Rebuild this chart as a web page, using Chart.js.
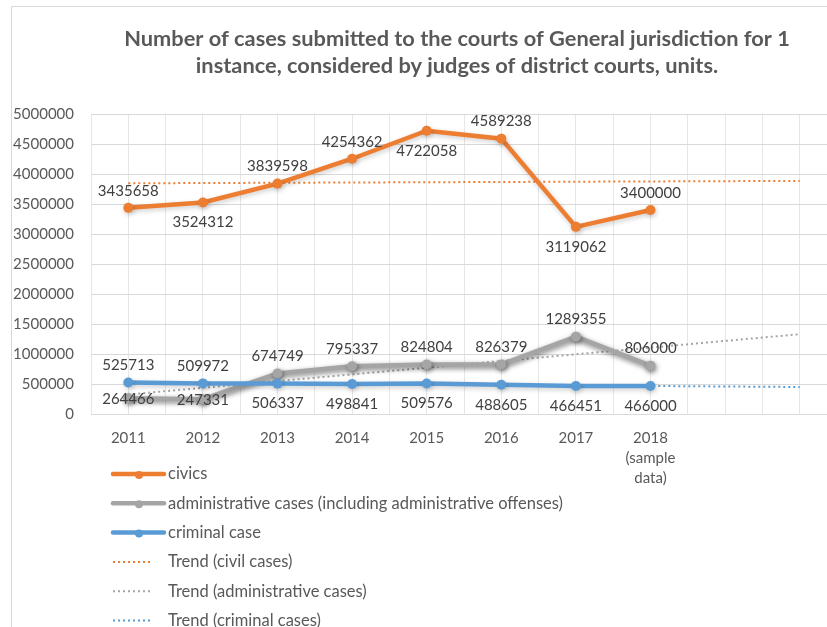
<!DOCTYPE html>
<html>
<head>
<meta charset="utf-8">
<script src="https://cdn.jsdelivr.net/npm/chart.js@4.4.1/dist/chart.umd.min.js"></script>
<style>
  html, body { margin: 0; padding: 0; background: #fff; overflow: hidden; width: 827px; height: 627px; }
  canvas { display: block; }
</style>
</head>
<body>
<canvas id="chart" width="860" height="627"></canvas>
<script>
// Cases submitted to courts of general jurisdiction, 2011-2018
const years = ['2011', '2012', '2013', '2014', '2015', '2016', '2017', ['2018', '(sample', 'data)']];
const civics = [3435658, 3524312, 3839598, 4254362, 4722058, 4589238, 3119062, 3400000];
const administrative = [264466, 247331, 674749, 795337, 824804, 826379, 1289355, 806000];
const criminal = [525713, 509972, 506337, 498841, 509576, 488605, 466451, 466000];

// trend lines: at 2011 and at the end of the forecast
const trendX = [0, 9];
const trendCivil = [3845000, 3885000];
const trendAdmin = [325000, 1330000];
const trendCriminal = [528000, 450000];

// where each value label sits next to its point
const civicsLabelPos = ['above', 'below', 'above', 'above', 'below', 'above', 'below', 'above'];
const adminLabelPos = ['center', 'center', 'above', 'above', 'above', 'above', 'above', 'above'];
const criminalLabelPos = ['above', 'above', 'below', 'below', 'below', 'below', 'below', 'below'];

const titleLines = [
  'Number of cases submitted to the courts of General jurisdiction for 1',
  'instance, considered by judges of district courts, units.',
];

const COLORS = {
  civics: '#ED7D31',
  admin: '#A5A5A5',
  criminal: '#5B9BD5',
  text: '#595959',
  label: '#404040',
  grid: '#D9D9D9',
  vgrid: '#E6E6E6',
  border: '#D9D9D9',
};
const FONT = 'Lato, "Open Sans", sans-serif';

const series = (label, values, color, labelPos, order, shadow) => ({
  label, labelPos, order, shadow,
  data: values.map((v, i) => ({ x: i, y: v })),
  borderColor: color, backgroundColor: color,
  borderWidth: 4.5, pointRadius: 5, pointBorderWidth: 0, pointBackgroundColor: color,
  tension: 0,
});

const trend = (label, values, color, order) => ({
  label, order, isTrend: true,
  data: trendX.map((x, i) => ({ x, y: values[i] })),
  borderColor: color, borderWidth: 2, borderDash: [2, 3], pointRadius: 0, fill: false,
});

const datasets = [
  series('civics', civics, COLORS.civics, civicsLabelPos, 3, 0.2),
  series('administrative cases (including administrative offenses)', administrative, COLORS.admin, adminLabelPos, 2, 0.5),
  series('criminal case', criminal, COLORS.criminal, criminalLabelPos, 1, 0.2),
  trend('Trend (civil cases)', trendCivil, COLORS.civics, 4),
  trend('Trend (administrative cases)', trendAdmin, COLORS.admin, 5),
  trend('Trend (criminal cases)', trendCriminal, COLORS.criminal, 6),
];

// soft shadow under the series lines, like the office chart
const shadowPlugin = {
  id: 'shadow',
  beforeDatasetDraw(chart, args) {
    const ds = chart.data.datasets[args.index];
    if (!ds.shadow) return;
    const ctx = chart.ctx;
    ctx.save();
    ctx.shadowColor = `rgba(0,0,0,${ds.shadow})`;
    ctx.shadowBlur = 5;
    ctx.shadowOffsetX = 1;
    ctx.shadowOffsetY = 2;
  },
  afterDatasetDraw(chart, args) {
    if (chart.data.datasets[args.index].shadow) chart.ctx.restore();
  },
};

const valueLabels = {
  id: 'valueLabels',
  afterDatasetsDraw(chart) {
    const ctx = chart.ctx;
    const offsets = { above: -17, below: 20, center: 1 };
    ctx.save();
    ctx.font = `15px ${FONT}`;
    ctx.fillStyle = COLORS.label;
    ctx.textAlign = 'center';
    ctx.textBaseline = 'middle';
    chart.data.datasets.forEach((ds, i) => {
      if (!ds.labelPos) return;
      chart.getDatasetMeta(i).data.forEach((pt, j) => {
        ctx.fillText(String(ds.data[j].y), pt.x, pt.y + offsets[ds.labelPos[j]]);
      });
    });
    ctx.restore();
  },
};

// title, border and the vertical legend under the axis
const decorations = {
  id: 'decorations',
  afterDraw(chart) {
    const ctx = chart.ctx;
    ctx.save();
    ctx.strokeStyle = COLORS.border;
    ctx.lineWidth = 1;
    ctx.strokeRect(11.5, 6.5, 1000, 1000);

    ctx.fillStyle = COLORS.text;
    ctx.font = `bold 21.8px ${FONT}`;
    ctx.textAlign = 'center';
    ctx.textBaseline = 'middle';
    titleLines.forEach((t, i) => ctx.fillText(t, 457, 39 + i * 27));

    ctx.font = `16.5px ${FONT}`;
    ctx.textAlign = 'left';
    chart.data.datasets.forEach((ds, i) => {
      const y = 474 + i * 29.3;
      ctx.strokeStyle = ds.borderColor;
      if (ds.isTrend) {
        ctx.lineWidth = 2;
        ctx.setLineDash([2, 3]);
        ctx.beginPath(); ctx.moveTo(113, y); ctx.lineTo(153, y); ctx.stroke();
        ctx.setLineDash([]);
      } else {
        ctx.lineWidth = 4.5;
        ctx.lineCap = 'round';
        ctx.beginPath(); ctx.moveTo(113, y); ctx.lineTo(164, y); ctx.stroke();
        ctx.lineCap = 'butt';
        ctx.fillStyle = ds.borderColor;
        ctx.beginPath(); ctx.arc(139, y + 1, 4, 0, Math.PI * 2); ctx.fill();
      }
      ctx.fillStyle = COLORS.text;
      ctx.fillText(ds.label, 168, y);
    });
    ctx.restore();
  },
};

new Chart(document.getElementById('chart'), {
  type: 'line',
  data: { datasets },
  plugins: [shadowPlugin, valueLabels, decorations],
  options: {
    responsive: false, animation: false,
    layout: { padding: { left: 13, right: 23, top: 114, bottom: 139 } },
    plugins: { legend: { display: false }, tooltip: { enabled: false }, title: { display: false } },
    scales: {
      x: {
        type: 'linear', min: -0.5, max: 9.5,
        border: { display: false },
        grid: { color: COLORS.vgrid, drawTicks: false },
        ticks: {
          stepSize: 0.5, maxTicksLimit: 40, autoSkip: false, maxRotation: 0, padding: 14,
          color: COLORS.text, font: { family: FONT, size: 15, lineHeight: 1.333 },
          callback: v => {
            const i = Math.round(v);
            return Math.abs(v - i) < 1e-6 && i >= 0 && i < years.length ? years[i] : '';
          },
        },
        afterFit: s => { s.height = 74; },
      },
      y: {
        min: 0, max: 5000000,
        border: { display: false },
        grid: { color: COLORS.grid, drawTicks: false },
        ticks: { stepSize: 500000, padding: 17, color: COLORS.text, font: { family: FONT, size: 15 }, callback: v => String(v) },
        afterFit: s => { s.width = 78; },
      },
    },
  },
});
</script>
</body>
</html>
